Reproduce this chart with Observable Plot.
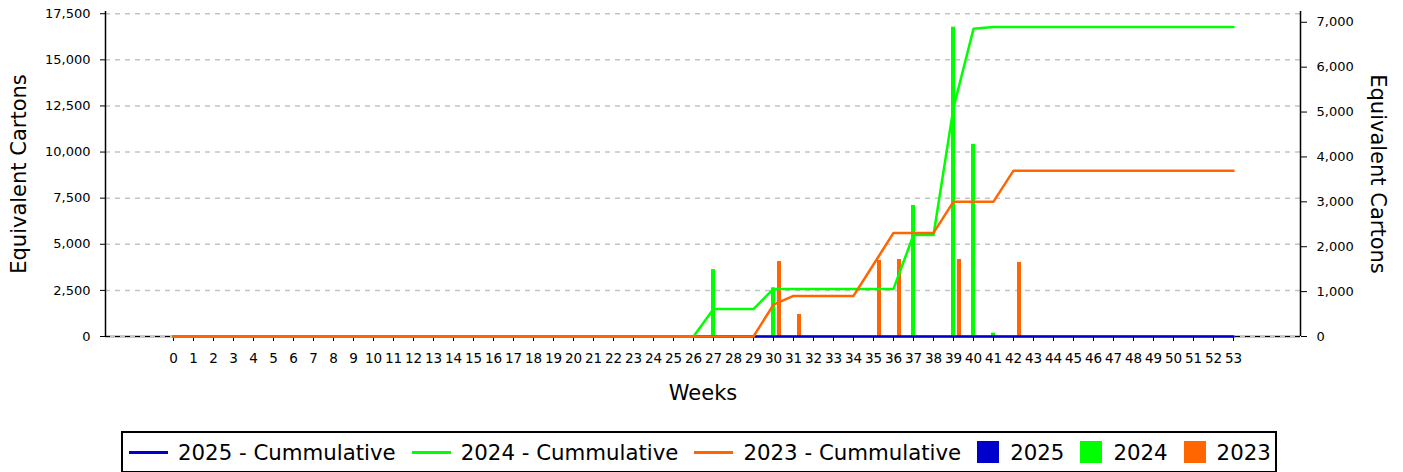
<!DOCTYPE html>
<html>
<head>
<meta charset="utf-8">
<script src="https://cdn.jsdelivr.net/npm/d3@7"></script>
<script src="https://cdn.jsdelivr.net/npm/@observablehq/plot@0.6"></script>
<style>
  body { margin: 0; background: #fff; font-family: "DejaVu Sans", sans-serif; }
  #wrap { position: relative; width: 1403px; height: 472px; overflow: hidden; background: #fff; }
  #wrap svg { position: absolute; left: 0; top: 0; }
  #legend { position: absolute; left: 121px; top: 431px; width: 1156px; height: 42px; box-sizing: border-box;
            border: 2px solid #000; display: flex; align-items: center; padding-left: 6px; font-size: 21.3px; color: #000; background: #fff; }
  .item { display: flex; align-items: center; margin-right: 16px; white-space: nowrap; }
  .ln { width: 39px; height: 3px; margin-right: 10px; }
  .sq { width: 22px; height: 22px; margin-right: 11px; }
</style>
</head>
<body>
<div id="wrap">
  <div id="chart"></div>
  <div id="legend"></div>
</div>
<script>
// ---- data ----
const weeks = [0,1,2,3,4,5,6,7,8,9,10,11,12,13,14,15,16,17,18,19,20,21,22,23,24,25,26,27,28,29,30,31,32,33,34,35,36,37,38,39,40,41,42,43,44,45,46,47,48,49,50,51,52,53];

const cum2025 = [0,0,0,0,0,0,0,0,0,0,0,0,0,0,0,0,0,0,0,0,0,0,0,0,0,0,0,0,0,0,0,0,0,0,0,0,0,0,0,0,0,0,0,0,0,0,0,0,0,0,0,0,0,0];
const cum2024 = [0,0,0,0,0,0,0,0,0,0,0,0,0,0,0,0,0,0,0,0,0,0,0,0,0,0,0,
                 1490,1490,1490,2580,2580,2580,2580,2580,2580,2580,5505,5505,12400,16680,
                 16780,16780,16780,16780,16780,16780,16780,16780,16780,16780,16780,16780,16780];
const cum2023 = [0,0,0,0,0,0,0,0,0,0,0,0,0,0,0,0,0,0,0,0,0,0,0,0,0,0,0,0,0,0,
                 1730,2200,2200,2200,2200,3905,5615,5615,5615,7310,7310,7310,
                 8990,8990,8990,8990,8990,8990,8990,8990,8990,8990,8990,8990];

const bar2024Weeks  = [27, 30, 37, 39, 40, 41];
const bar2024Values = [1490, 1085, 2920, 6890, 4280, 75];
const bar2023Weeks  = [30, 31, 35, 36, 39, 42];
const bar2023Values = [1670, 490, 1695, 1715, 1715, 1650];

const series = ["2025", "2024", "2023"];
const colors = ["#0000cc", "#00ff00", "#ff6600"];
const leftTicks  = [0, 2500, 5000, 7500, 10000, 12500, 15000, 17500];
const rightTicks = [0, 1000, 2000, 3000, 4000, 5000, 6000, 7000];
const axisTitle = "Equivalent Cartons";
const xTitle = "Weeks";

// ---- tables built from the arrays ----
const lineRows = [];
[cum2025, cum2024, cum2023].forEach((arr, i) =>
  arr.forEach((v, k) => lineRows.push({week: weeks[k], value: v, series: series[i]})));
const barRows = [];
bar2024Weeks.forEach((w, k) => barRows.push({week: w, value: bar2024Values[k], series: "2024", off: 0}));
bar2023Weeks.forEach((w, k) => barRows.push({week: w, value: bar2023Values[k], series: "2023", off: 0.3}));

// ---- layout ----
const W = 1403, H = 425;
const common = {
  width: W, height: H, marginLeft: 105, marginRight: 103, marginTop: 11, marginBottom: H - 336,
  x: {domain: [-3.4, 56.35], axis: null},
  style: {background: "transparent", fontFamily: "DejaVu Sans", fontSize: "13px", color: "#000", overflow: "visible"}
};
const colorOf = s => colors[series.indexOf(s)];

const base = Plot.plot({
  ...common,
  y: {domain: [0, 17620], axis: null},
  marks: [
    Plot.gridY(leftTicks.filter(t => t > 0), {stroke: "#c4c4c4", strokeOpacity: 1, strokeWidth: 1.5, strokeDasharray: "5,5"}),
    Plot.ruleY([0], {stroke: "#c8c8c8", strokeWidth: 3}),
    Plot.ruleY([0], {stroke: "#000", strokeWidth: 1, strokeDasharray: "5,5"}),
    Plot.ruleX([-3.4], {stroke: "#000", strokeWidth: 1.5}),
    Plot.ruleX([56.35], {stroke: "#000", strokeWidth: 1.5}),
    Plot.axisY(leftTicks, {anchor: "left", tickSize: 5, tickPadding: 10, tickFormat: d3.format(","), label: null, fontSize: 13}),
    Plot.axisX(weeks, {anchor: "bottom", tickSize: 5, tickPadding: 12, tickFormat: d => String(d), label: null, fontSize: 13.5}),
    Plot.text([xTitle], {text: d => d, frameAnchor: "bottom", dy: 63, fontSize: 21}),
    Plot.text([axisTitle], {text: d => d, frameAnchor: "left", textAnchor: "middle", dx: -86, rotate: -90, fontSize: 21}),
    Plot.text([axisTitle], {text: d => d, frameAnchor: "right", textAnchor: "middle", dx: 77, rotate: 90, fontSize: 21})
  ]
});

const bars = Plot.plot({
  ...common,
  y: {domain: [0, 7240], axis: null},
  marks: [
    Plot.rect(barRows, {x1: d => d.week + d.off - 0.1, x2: d => d.week + d.off + 0.1, y1: 0, y2: "value", fill: d => colorOf(d.series)}),
    Plot.axisY(rightTicks, {anchor: "right", tickSize: 6, tickPadding: 10, tickFormat: d3.format(","), label: null, fontSize: 13})
  ]
});

const lines = Plot.plot({
  ...common,
  y: {domain: [0, 17620], axis: null},
  marks: series.map(s =>
    Plot.line(lineRows.filter(r => r.series === s), {x: "week", y: "value", stroke: colorOf(s), strokeWidth: 2.5}))
});

const chart = document.getElementById("chart");
chart.appendChild(base);
chart.appendChild(bars);
chart.appendChild(lines);

// ---- legend ----
const legend = document.getElementById("legend");
series.forEach((s, i) => {
  legend.insertAdjacentHTML("beforeend",
    `<div class="item"><div class="ln" style="background:${colors[i]}"></div><span>${s} - Cummulative</span></div>`);
});
series.forEach((s, i) => {
  legend.insertAdjacentHTML("beforeend",
    `<div class="item"><div class="sq" style="background:${colors[i]}"></div><span>${s}</span></div>`);
});
</script>
</body>
</html>
